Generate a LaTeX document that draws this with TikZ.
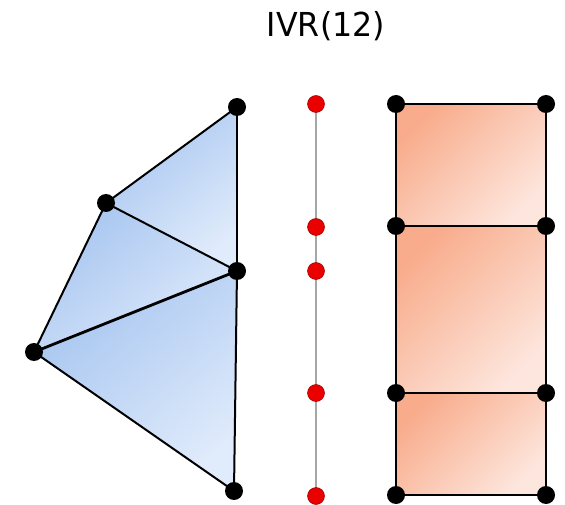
\documentclass[tikz,border=0pt]{standalone}
\usepackage{fontspec}
\setmainfont{DejaVu Sans}
\definecolor{bdark}{RGB}{166,197,240}
\definecolor{blight}{RGB}{224,235,251}
\definecolor{sdark}{RGB}{248,172,140}
\definecolor{slight}{RGB}{253,230,221}
\begin{document}
\begin{tikzpicture}[x=1pt,y=-1pt,
  bdot/.style={circle,fill=black,inner sep=0pt,minimum size=18pt},
  rdot/.style={circle,fill=red!92!black,draw=red!60!black,line width=0.5pt,inner sep=0pt,minimum size=17pt},
  edge/.style={draw=black,line width=2pt},
  blueface/.style={top color=bdark, bottom color=blight, shading angle=40},
  redface/.style={top color=sdark, bottom color=slight, shading angle=45}]
\useasboundingbox (0,0) rectangle (565,505);
\node[font=\fontsize{33}{40}\selectfont,xscale=0.96] (title) at (326,26) {IVR(12)};
% left triangulation
\coordinate (A) at (237,107);
\coordinate (B) at (106,203);
\coordinate (C) at (237,271);
\coordinate (D) at (34,352);
\coordinate (E) at (234,491);
\shade[blueface] (B) -- (A) -- (C) -- cycle;
\shade[blueface] (B) -- (C) -- (D) -- cycle;
\shade[blueface] (D) -- (C) -- (E) -- cycle;
\draw[edge] (A) -- (B);
\draw[edge] (A) -- (C);
\draw[edge] (B) -- (C);
\draw[edge] (B) -- (D);
\draw[edge,line width=2.8pt] (D) -- (C);
\draw[edge] (C) -- (E);
\draw[edge] (D) -- (E);
\foreach \n in {A,B,C,D,E} \node[bdot] (n\n) at (\n) {};
% middle line
\coordinate (M1) at (316,104);
\coordinate (M2) at (316,227);
\coordinate (M3) at (316,271);
\coordinate (M4) at (316,393);
\coordinate (M5) at (316,496);
\draw[gray!70,line width=1.8pt] (M1) -- (M5);
\foreach \n in {M1,M2,M3,M4,M5} \node[rdot] (n\n) at (\n) {};
% right rectangles
\coordinate (P1) at (396,104); \coordinate (Q1) at (546,104);
\coordinate (P2) at (396,226); \coordinate (Q2) at (546,226);
\coordinate (P3) at (396,393); \coordinate (Q3) at (546,393);
\coordinate (P4) at (396,495); \coordinate (Q4) at (546,495);
\shade[redface] (P1) rectangle (Q2);
\shade[redface] (P2) rectangle (Q3);
\shade[redface] (P3) rectangle (Q4);
\draw[edge] (P1) -- (Q1);
\draw[edge] (P2) -- (Q2);
\draw[edge] (P3) -- (Q3);
\draw[edge] (P4) -- (Q4);
\draw[edge] (P1) -- (P4);
\draw[edge] (Q1) -- (Q4);
\foreach \n in {P1,Q1,P2,Q2,P3,Q3,P4,Q4} \node[bdot] (n\n) at (\n) {};
\end{tikzpicture}
\end{document}
